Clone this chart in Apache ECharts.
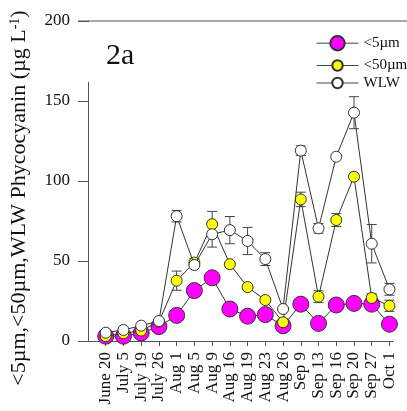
<!DOCTYPE html>
<html>
<head>
<meta charset="utf-8">
<script src="https://cdn.jsdelivr.net/npm/echarts@6/dist/echarts.min.js"></script>
<style>html,body{margin:0;padding:0;background:#fff}#c{width:407px;height:411px}</style>
</head>
<body>
<div id="c"></div>
<script>
const categories = ['June 20','July 5','July 19','July 26','Aug 1','Aug 5','Aug 9','Aug 16','Aug 19','Aug 23','Aug 26','Sep 9','Sep 13','Sep 16','Sep 20','Sep 27','Oct 1'];
const lt5  = [3, 3, 5, 9, 16, 31.5, 39.5, 20, 15.5, 16.5, 9.5, 23, 11, 22.5, 23.5, 23, 10.5];
const lt50 = [3, 4.8, 6.5, 12, 37.7, 49, 73, 48, 33.7, 25.6, 11.7, 88.5, 27.7, 75.6, 102.7, 26.9, 22];
const wlw  = [5.2, 6.9, 9.6, 12.5, 78, 47.5, 66.7, 69.3, 62.5, 51.2, 20, 119, 70.4, 115.2, 142.7, 60.8, 32.3];
const err5   = [0, 0, 0, 0, 0, 0, 0, 0, 0, 0, 0, 0, 0, 0, 0, 0, 0];
const err50  = [1, 1, 1, 1, 6, 2.5, 8, 1, 1, 1, 2, 4.5, 3.7, 4, 1, 2.7, 3.5];
const errWLW = [1, 1, 1, 1, 3.6, 1, 8, 8.5, 8.5, 4, 1, 3, 3, 1, 10, 12, 3.7];
const yTicks = [0, 50, 100, 150, 200];
const seriesNames = ['<5µm', '<50µm', 'WLW'];

const serif = '"Liberation Serif", "Times New Roman", serif';
const idx = categories.map((_, i) => i);
const pairs = arr => arr.map((v, i) => [i, v]);
const errData = (vals, errs) => vals.map((v, i) => [i, v, errs[i]]);

function errSeries(vals, errs) {
  return {
    type: 'custom', z: 1, silent: true,
    data: errData(vals, errs),
    renderItem: function (params, api) {
      const x = api.value(0), v = api.value(1), e = api.value(2);
      if (!e) return null;
      const hi = api.coord([x, v + e]);
      const lo = api.coord([x, v - e]);
      const w = 5;
      const st = { stroke: '#444', lineWidth: 1 };
      return { type: 'group', children: [
        { type: 'line', shape: { x1: hi[0], y1: hi[1], x2: lo[0], y2: lo[1] }, style: st },
        { type: 'line', shape: { x1: hi[0] - w, y1: hi[1], x2: hi[0] + w, y2: hi[1] }, style: st },
        { type: 'line', shape: { x1: lo[0] - w, y1: lo[1], x2: lo[0] + w, y2: lo[1] }, style: st }
      ]};
    }
  };
}

function lineSeries(name, vals, color, size, z) {
  return {
    name: name, type: 'line', data: pairs(vals), z: z,
    symbol: 'circle', symbolSize: size, showAllSymbol: true,
    lineStyle: { color: '#333', width: 1 },
    itemStyle: { color: color, borderColor: '#333', borderWidth: 1 },
    emphasis: { disabled: true }, animation: false
  };
}

function legendItem(name, top, h) {
  return {
    orient: 'vertical', left: 311, top: top, itemWidth: 42, itemHeight: h,
    textStyle: { fontFamily: serif, fontSize: 15, color: '#111' },
    lineStyle: { width: 1, color: '#444' },
    data: [name]
  };
}

const chart = echarts.init(document.getElementById('c'), null, { renderer: 'canvas' });
chart.setOption({
  animation: false,
  backgroundColor: '#fff',
  grid: { left: 88, right: 14, top: 21, bottom: 70, containLabel: false },
  legend: [
    legendItem(seriesNames[0], 30, 18),
    legendItem(seriesNames[1], 53, 13),
    legendItem(seriesNames[2], 70.5, 13)
  ],
  xAxis: {
    type: 'value', min: -1, max: 16.2,
    axisLine: { show: true, onZero: false, lineStyle: { color: '#555', width: 1 } },
    axisTick: { show: true, length: 5, inside: false, customValues: idx, lineStyle: { color: '#555' } },
    axisLabel: {
      customValues: idx, rotate: 90, margin: 11,
      fontFamily: serif, fontSize: 17, color: '#111',
      formatter: v => categories[Math.round(v)] || ''
    },
    splitLine: { show: false }
  },
  yAxis: {
    type: 'value', min: 0, max: 200, interval: 50,
    axisLine: { show: true, onZero: false, lineStyle: { color: '#555', width: 1 } },
    axisTick: { show: true, length: 10, lineStyle: { color: '#555' } },
    axisLabel: { margin: 18, fontFamily: serif, fontSize: 17, color: '#111',
      customValues: yTicks },
    splitLine: { show: false }
  },
  series: [
    errSeries(lt5, err5),
    errSeries(lt50, err50),
    errSeries(wlw, errWLW),
    lineSeries(seriesNames[0], lt5, '#ff00ff', 16, 3),
    lineSeries(seriesNames[1], lt50, '#ffff00', 11, 4),
    lineSeries(seriesNames[2], wlw, '#ffffff', 11, 5)
  ]
});

const pTop = chart.convertToPixel({ gridIndex: 0 }, [-1, 200]);
const pGap = chart.convertToPixel({ gridIndex: 0 }, [-1, 162]);
chart.setOption({
  graphic: [
    { type: 'rect', z: 100, shape: { x: pTop[0] - 3, y: pTop[1] + 1, width: 6, height: pGap[1] - pTop[1] - 1 }, style: { fill: '#fff' } },
    { type: 'line', z: 101, shape: { x1: pTop[0] - 10, y1: pTop[1], x2: 407, y2: pTop[1] }, style: { stroke: '#555', lineWidth: 1 } },
    { type: 'text', z: 101, x: 106, y: 56, style: { text: '2a', fontFamily: serif, fontSize: 30, fill: '#111', verticalAlign: 'middle' } },
    { type: 'text', z: 101, x: 19, y: 198, rotation: Math.PI / 2,
      style: {
        text: '{a|<5µm,<50µm,WLW Phycocyanin (µg L}{s|-1}{a|)}',
        align: 'center', verticalAlign: 'middle',
        rich: {
          a: { fontFamily: serif, fontSize: 22, fill: '#111' },
          s: { fontFamily: serif, fontSize: 14, fill: '#111', verticalAlign: 'top' }
        }
      }
    }
  ]
});
</script>
</body>
</html>
